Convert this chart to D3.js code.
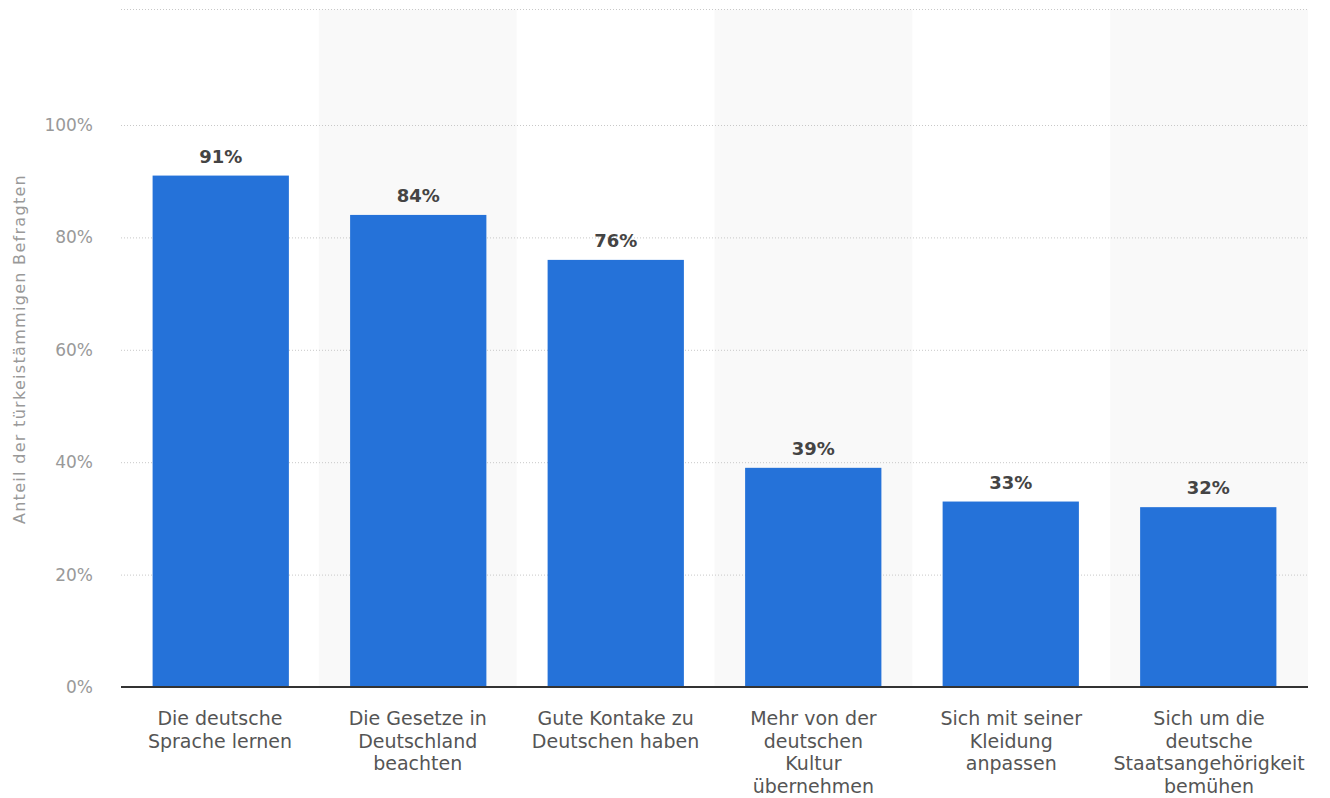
<!DOCTYPE html>
<html><head><meta charset="utf-8">
<script src="https://cdn.jsdelivr.net/npm/d3@7"></script>
<style>body{margin:0;background:#fff;}svg{display:block;}</style>
</head><body>
<svg id="chart" width="1330" height="798"></svg>
<script>
const categories = [
  ["Die deutsche", "Sprache lernen"],
  ["Die Gesetze in", "Deutschland", "beachten"],
  ["Gute Kontake zu", "Deutschen haben"],
  ["Mehr von der", "deutschen", "Kultur", "übernehmen"],
  ["Sich mit seiner", "Kleidung", "anpassen"],
  ["Sich um die", "deutsche", "Staatsangehörigkeit", "bemühen"]
];
const values = [91, 84, 76, 39, 33, 32];
const yTicks = [0, 20, 40, 60, 80, 100];
const yTitle = "Anteil der türkeistämmigen Befragten";

(function () {
const svg = d3.select("#chart");
const pl = 121, pr = 1308, pt = 9.5, base = 687;
const font = "DejaVu Sans, sans-serif";
const keys = categories.map((c, i) => i);
const x = d3.scaleBand().domain(keys).range([pl, pr]).paddingInner(0.31).paddingOuter(0.16);
const xb = d3.scaleBand().domain(keys).range([pl, pr]).padding(0);
const y = d3.scaleLinear().domain([0, 100]).range([base, 125]);

// alternating bands
svg.append("g").selectAll("rect").data(keys.filter(i => i % 2 === 1)).join("rect")
  .attr("x", i => xb(i)).attr("y", pt).attr("width", xb.bandwidth()).attr("height", base - pt)
  .attr("fill", "#f9f9f9");

// gridlines
const grid = svg.append("g");
grid.selectAll("line").data(yTicks.filter(t => t > 0)).join("line")
  .attr("x1", pl).attr("x2", pr).attr("y1", d => y(d) + 0.5).attr("y2", d => y(d) + 0.5)
  .attr("stroke", "#c8c8c8").attr("stroke-width", 1).attr("stroke-dasharray", "1,2");
grid.append("line").attr("x1", pl).attr("x2", pr).attr("y1", pt).attr("y2", pt)
  .attr("stroke", "#c8c8c8").attr("stroke-width", 1).attr("stroke-dasharray", "1,2");

// y axis
const yAxis = svg.append("g").attr("transform", `translate(${pl - 28},0)`)
  .call(d3.axisLeft(y).tickValues(yTicks).tickFormat(d => d + "%").tickSize(0).tickPadding(0));
yAxis.select(".domain").remove();
yAxis.selectAll("text").attr("fill", "#999").style("font-family", font).style("font-size", "17px");

svg.append("text").attr("transform", `translate(25,349) rotate(-90)`)
  .attr("text-anchor", "middle").attr("fill", "#999")
  .style("font-family", font).style("font-size", "16px").style("letter-spacing", "1.3px").text(yTitle);

// bars
svg.append("g").selectAll("rect").data(values).join("rect")
  .attr("x", (d, i) => x(i)).attr("y", d => y(d)).attr("width", x.bandwidth()).attr("height", d => base - y(d))
  .attr("fill", "#2572d9");

// value labels
svg.append("g").selectAll("text").data(values).join("text")
  .attr("x", (d, i) => x(i) + x.bandwidth() / 2).attr("y", d => y(d) - 13)
  .attr("text-anchor", "middle").attr("fill", "#444").attr("font-weight", "bold")
  .style("font-family", font).style("font-size", "18px")
  .text(d => d + "%");

// baseline
svg.append("line").attr("x1", pl).attr("x2", pr).attr("y1", base).attr("y2", base)
  .attr("stroke", "#333").attr("stroke-width", 2);

// x labels
const xl = svg.append("g").selectAll("text").data(categories).join("text")
  .attr("x", (d, i) => xb(i) + xb.bandwidth() / 2).attr("y", 725)
  .attr("text-anchor", "middle").attr("fill", "#555")
  .style("font-family", font).style("font-size", "19px");
xl.selectAll("tspan").data(d => d).join("tspan")
  .attr("x", function () { return this.parentNode.getAttribute("x"); })
  .attr("dy", (d, j) => j === 0 ? 0 : 22.5).text(d => d);
})();
</script>
</body></html>
